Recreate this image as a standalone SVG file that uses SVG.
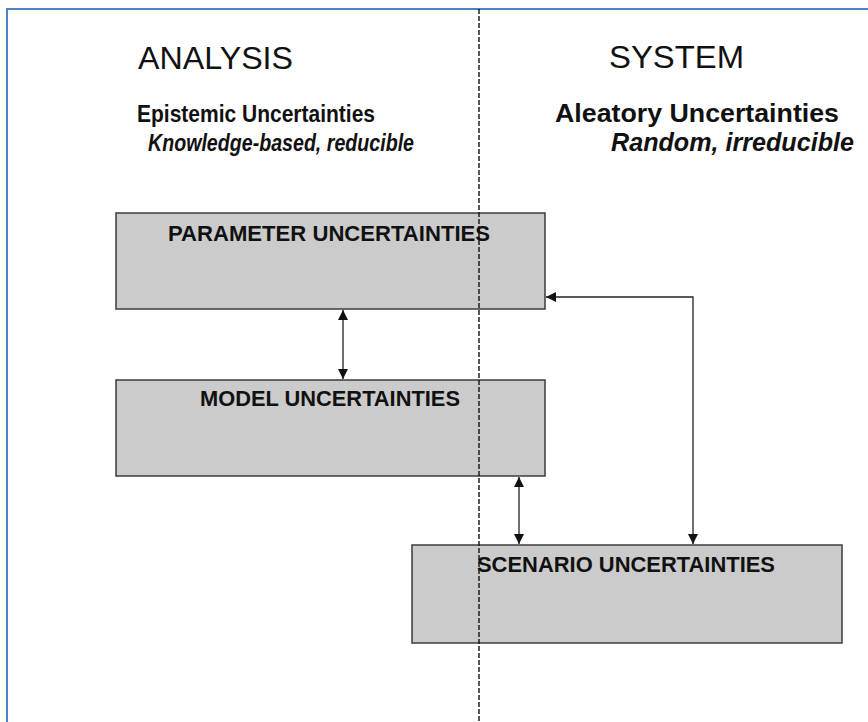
<svg xmlns="http://www.w3.org/2000/svg" width="868" height="722" viewBox="0 0 868 722">
<defs>
<style>
.box{fill:#cbcbcb;stroke:#3c3c3c;stroke-width:1.5}
.lbl{font-family:"Liberation Sans",Arial,sans-serif;font-weight:bold;font-size:22px;fill:#111}
.head{font-family:"Liberation Sans",Arial,sans-serif;font-size:31px;fill:#111}
.sub{font-family:"Liberation Sans",Arial,sans-serif;font-weight:bold;font-size:25px;fill:#111}
.subl{font-family:"Liberation Sans",Arial,sans-serif;font-weight:bold;font-size:23px;fill:#111}
.it{font-style:italic}
.con{fill:none;stroke:#222;stroke-width:1.3}
</style>
<marker id="ah" viewBox="0 0 10 10" refX="10" refY="5" markerWidth="10" markerHeight="10" markerUnits="userSpaceOnUse" orient="auto-start-reverse">
<path d="M0,0 L10,5 L0,10 Z" fill="#111"/>
</marker>
</defs>
<rect width="868" height="722" fill="#fff"/>
<path d="M7,722 V9 H868" fill="none" stroke="#4f81c7" stroke-width="2"/>
<g id="headers">
<text class="head" x="138" y="69" textLength="155" lengthAdjust="spacingAndGlyphs">ANALYSIS</text>
<text class="head" x="609" y="68" textLength="135" lengthAdjust="spacingAndGlyphs">SYSTEM</text>
<text class="subl" x="137" y="122" textLength="238" lengthAdjust="spacingAndGlyphs">Epistemic Uncertainties</text>
<text class="subl it" x="148" y="151" textLength="266" lengthAdjust="spacingAndGlyphs">Knowledge-based, reducible</text>
<text class="sub" x="555" y="122" textLength="284" lengthAdjust="spacingAndGlyphs">Aleatory Uncertainties</text>
<text class="sub it" x="611" y="151" textLength="243" lengthAdjust="spacingAndGlyphs">Random, irreducible</text>
</g>
<g id="parameter">
<rect class="box" x="116" y="213" width="429" height="96"/>
<text class="lbl" x="168" y="241" textLength="322" lengthAdjust="spacingAndGlyphs">PARAMETER UNCERTAINTIES</text>
</g>
<g id="model">
<rect class="box" x="116" y="380" width="429" height="96"/>
<text class="lbl" x="200" y="406" textLength="260" lengthAdjust="spacingAndGlyphs">MODEL UNCERTAINTIES</text>
</g>
<g id="scenario">
<rect class="box" x="412" y="545" width="430" height="98"/>
<text class="lbl" x="477" y="572" textLength="298" lengthAdjust="spacingAndGlyphs">SCENARIO UNCERTAINTIES</text>
</g>
<g id="divider">
<line x1="479" y1="9" x2="479" y2="722" stroke="#111" stroke-width="1.4" stroke-dasharray="5,2"/>
</g>
<g id="connectors">
<line class="con" x1="343" y1="310" x2="343" y2="379" marker-start="url(#ah)" marker-end="url(#ah)"/>
<line class="con" x1="519" y1="477" x2="519" y2="544" marker-start="url(#ah)" marker-end="url(#ah)"/>
<path class="con" d="M693,544 V297 H546" marker-start="url(#ah)" marker-end="url(#ah)"/>
</g>
</svg>
